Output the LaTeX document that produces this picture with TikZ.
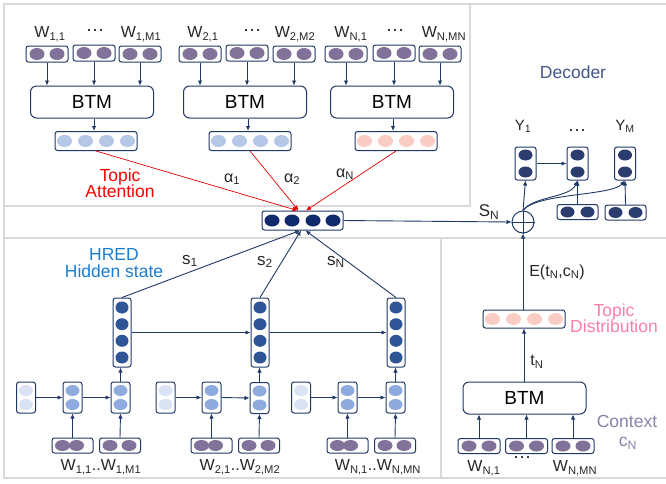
\documentclass[tikz,border=0pt]{standalone}
\usepackage{fontspec}
\setmainfont{Liberation Sans}
\usetikzlibrary{positioning,calc,arrows.meta}
\definecolor{navy}{HTML}{1F3864}
\definecolor{wordc}{HTML}{807299}
\definecolor{topicc}{HTML}{B4C7E7}
\definecolor{pinkc}{HTML}{F9CDC3}
\definecolor{attc}{HTML}{0E2A6A}
\definecolor{hidc}{HTML}{2F5597}
\definecolor{midc}{HTML}{8FAADC}
\definecolor{lightc}{HTML}{DAE3F3}
\definecolor{decc}{HTML}{2B3C6E}
\definecolor{dectext}{HTML}{44558A}
\definecolor{hredtext}{HTML}{1A7DD0}
\definecolor{disttext}{HTML}{FF7DAA}
\definecolor{ctxtext}{HTML}{8A80A8}
\newcommand{\fsz}[1]{\fontsize{#1}{#1}\selectfont}
\newcommand{\lo}[1]{\textsubscript{#1}}
\newcommand{\cellbox}[7]{%
	\node[cell, minimum width=#3pt, minimum height=#4pt] (#1) at #2 {};
	\foreach \dx/\dy in {#7} \fill[#5] ($(#1)+(\dx,\dy)$) ellipse (#6);
}
\tikzset{
	cell/.style={draw=navy, line width=1pt, rounded corners=2.5pt, fill=white, inner sep=0pt},
	btm/.style={draw=navy, line width=1pt, rounded corners=6pt, minimum width=123pt, minimum height=32pt, inner sep=0pt, font=\fsz{19}},
	arr/.style={navy, line width=0.9pt, -{Latex[length=5pt,width=4.5pt]}},
	redarr/.style={red!90!black, line width=0.7pt, -{Latex[length=5pt,width=4.5pt]}},
	lbl/.style={text=black!85, inner sep=0pt, font=\fsz{16}},
	dots/.style={text=black!85, inner sep=0pt, font=\fsz{19}},
	big/.style={inner sep=0pt, align=center, font=\fsz{17.5}},
	panel/.style={draw=black!15, line width=1.3pt},
}
\begin{document}
\begin{tikzpicture}[x=1pt, y=-1pt]
	\useasboundingbox (0,0) rectangle (666,483);
	\draw[panel] (4,4) rectangle (672,478);
	\draw[panel, fill=white] (4,4) rectangle (470,206);
	\draw[panel] (4,238) rectangle (441,478);
	\draw[panel] (441,238) rectangle (672,478);

	\cellbox{w11}{(47,54)}{42}{16}{wordc}{7.5 and 6}{-10/0,10/0}
	\cellbox{w12}{(94,53)}{42}{16}{wordc}{7.5 and 6}{-10/0,10/0}
	\cellbox{w13}{(140,54)}{42}{16}{wordc}{7.5 and 6}{-10/0,10/0}
	\cellbox{w21}{(200,54)}{42}{16}{wordc}{7.5 and 6}{-10/0,10/0}
	\cellbox{w22}{(247,53)}{42}{16}{wordc}{7.5 and 6}{-10/0,10/0}
	\cellbox{w23}{(294,54)}{42}{16}{wordc}{7.5 and 6}{-10/0,10/0}
	\cellbox{w31}{(346,54)}{42}{16}{wordc}{7.5 and 6}{-10/0,10/0}
	\cellbox{w32}{(394,53)}{42}{16}{wordc}{7.5 and 6}{-10/0,10/0}
	\cellbox{w33}{(440,54)}{42}{16}{wordc}{7.5 and 6}{-10/0,10/0}
	\node[lbl] (lw11) at (50,34) {W\lo{1,1}};
	\node[dots] (lw12) at (95,30) {…};
	\node[lbl] (lw13) at (141,34) {W\lo{1,M1}};
	\node[lbl] (lw21) at (203,34) {W\lo{2,1}};
	\node[dots] (lw22) at (252,30) {…};
	\node[lbl] (lw23) at (295,34) {W\lo{2,M2}};
	\node[lbl] (lw31) at (351,34) {W\lo{N,1}};
	\node[dots] (lw32) at (395,30) {…};
	\node[lbl] (lw33) at (444,34) {W\lo{N,MN}};

	\node[btm] (btm1) at (92,102) {BTM};
	\node[btm] (btm2) at (245,102) {BTM};
	\node[btm] (btm3) at (392,102) {BTM};
	\foreach \w in {w11,w12,w13} \draw[arr] (\w.south) -- (\w.south |- btm1.north);
	\foreach \w in {w21,w22,w23} \draw[arr] (\w.south) -- (\w.south |- btm2.north);
	\foreach \w in {w31,w32,w33} \draw[arr] (\w.south) -- (\w.south |- btm3.north);

	\cellbox{topic1}{(96,141)}{82}{19}{topicc}{7.5 and 6}{-31.5/0,-10.5/0,10.5/0,31.5/0}
	\cellbox{topic2}{(250,141)}{82}{19}{topicc}{7.5 and 6}{-31.5/0,-10.5/0,10.5/0,31.5/0}
	\cellbox{topic3}{(396,141)}{82}{19}{pinkc}{7.5 and 6}{-31.5/0,-10.5/0,10.5/0,31.5/0}
	\draw[arr] ($(btm1.south)+(2,0)$) -- ($(topic1.north)+(-2,0)$);
	\draw[arr] ($(btm2.south)+(3,0)$) -- ($(topic2.north)+(-2,0)$);
	\draw[arr] ($(btm3.south)+(1,0)$) -- ($(topic3.north)+(-3,0)$);
	\node[big, text=red] (tatt) at (120,183) {Topic\\[-1pt]Attention};

	\cellbox{att}{(302.5,220.5)}{81}{19}{attc}{7.5 and 6}{-30.5/0,-10.5/0,10.5/0,30.5/0}
	\draw[redarr] (topic1.south) -- ($(att.north)+(-5,0)$);
	\draw[redarr] (topic2.south) -- ($(att.north)+(-4,0)$);
	\draw[redarr] (topic3.south) -- ($(att.north)+(3.5,0)$);
	\node[lbl] (a1) at (232,179) {α\lo{1}};
	\node[lbl] (a2) at (292,179) {α\lo{2}};
	\node[lbl] (aN) at (345,174) {α\lo{N}};

	\node[big, text=dectext] (dec) at (573,72) {Decoder};
	\node[lbl, font=\fsz{15}] (y1) at (523,126) {Y\lo{1}};
	\node[dots] (ydots) at (577,130) {…};
	\node[lbl, font=\fsz{15}] (yM) at (625,126) {Y\lo{M}};
	\cellbox{d1}{(525.5,163.5)}{21}{33}{decc}{7 and 5.5}{0/-8.5,0/8.5}
	\cellbox{d2}{(577.5,163.5)}{21}{33}{decc}{7 and 5.5}{0/-8.5,0/8.5}
	\cellbox{d3}{(625,163.5)}{21}{33}{decc}{7 and 5.5}{0/-8.5,0/8.5}
	\cellbox{e2}{(577.5,212)}{41}{15}{decc}{7 and 5.5}{-10/0,10/0}
	\cellbox{e3}{(625.5,212.5)}{41}{15}{decc}{7 and 5.5}{-10/0,10/0}
	\node[circle, draw=navy, line width=1pt, minimum size=22pt, inner sep=0pt, fill=white] (plus) at (523,222) {};
	\draw[navy, line width=0.6pt] (plus.north) -- (plus.south) (plus.west) -- (plus.east);
	\draw[arr] (att.east) -- (plus.west);
	\node[lbl, font=\fsz{17}] (sN) at (489,212) {S\lo{N}};
	\draw[arr] (plus.north) -- (d1.south);
	\draw[arr] (d1.east) -- (d2.west);
	\draw[arr] (e2.north) -- (d2.south);
	\draw[arr] (e3.north) -- (d3.south);
	\draw[arr] (plus.north) .. controls (533,196) and (570,198) .. (d2.south);
	\draw[arr] (plus.north) .. controls (536,193) and (612,196) .. (d3.south);

	\cellbox{td}{(524,319)}{82}{18}{pinkc}{7.5 and 6}{-31.5/0,-10.5/0,10.5/0,31.5/0}
	\node[big, text=disttext] (tdist) at (614,318) {Topic\\[-1pt]Distribution};
	\node[btm] (btm4) at (524.5,398) {BTM};
	\cellbox{v1}{(479,446)}{42}{15}{wordc}{7.5 and 5.5}{-10/0,10/0}
	\cellbox{v2}{(526.5,446)}{42}{15}{wordc}{7.5 and 5.5}{-10/0,10/0}
	\cellbox{v3}{(573,446)}{42}{15}{wordc}{7.5 and 5.5}{-10/0,10/0}
	\foreach \v in {v1,v2,v3} \draw[arr] (\v.north) -- (\v.north |- btm4.south);
	\node[lbl] (lv1) at (484,468) {W\lo{N,1}};
	\node[dots] (lv2) at (522,457) {…};
	\node[lbl] (lv3) at (575,468) {W\lo{N,MN}};
	\node[big, text=ctxtext] (ctx) at (627,421) {Context};
	\node[big, text=ctxtext] (cN) at (628,443) {c\lo{N}};
	\draw[arr] (btm4.north -| td.south) -- (td.south);
	\node[lbl] (tN) at (537,362) {t\lo{N}};
	\draw[arr] (td.north -| plus.south) -- (plus.south);
	\node[lbl] (etc) at (557,272) {E(t\lo{N},c\lo{N})};

	\node[big, text=hredtext] (hred) at (114,263) {HRED\\[-1pt]Hidden state};
	\cellbox{h1}{(122,332.5)}{18}{69}{hidc}{6.5 and 6}{0/-25,0/-8.3,0/8.3,0/25}
	\cellbox{h2}{(260,332.5)}{18}{69}{hidc}{6.5 and 6}{0/-25,0/-8.3,0/8.3,0/25}
	\cellbox{h3}{(396,332.5)}{18}{69}{hidc}{6.5 and 6}{0/-25,0/-8.3,0/8.3,0/25}
	\draw[arr] (h1.east) -- (h2.west);
	\draw[arr] (h2.east) -- (h3.west);
	\draw[arr] (h1.north) -- ($(att.south)+(-2.5,0)$);
	\draw[arr] (h2.north) -- ($(att.south)+(-1.5,0)$);
	\draw[arr] (h3.north) -- ($(att.south)+(3,0)$);
	\node[lbl, font=\fsz{17}] (s1) at (190,261) {s\lo{1}};
	\node[lbl, font=\fsz{17}] (s2) at (265,262) {s\lo{2}};
	\node[lbl, font=\fsz{17}] (sn) at (336,262) {s\lo{N}};

	\cellbox{r10}{(26,397.5)}{19}{31}{lightc}{7 and 5.5}{0/-7,0/7}
	\cellbox{r11}{(72.5,397.5)}{19}{31}{midc}{7 and 5.5}{0/-7,0/7}
	\cellbox{r12}{(120.5,397.5)}{19}{31}{midc}{7 and 5.5}{0/-7,0/7}
	\cellbox{r20}{(165.5,397.5)}{19}{31}{lightc}{7 and 5.5}{0/-7,0/7}
	\cellbox{r21}{(211.5,397.5)}{19}{31}{midc}{7 and 5.5}{0/-7,0/7}
	\cellbox{r22}{(259.5,398)}{19}{31}{midc}{7 and 5.5}{0/-7,0/7}
	\cellbox{r30}{(301,397.5)}{19}{31}{lightc}{7 and 5.5}{0/-7,0/7}
	\cellbox{r31}{(347.5,397.5)}{19}{31}{midc}{7 and 5.5}{0/-7,0/7}
	\cellbox{r32}{(395.5,397.5)}{19}{31}{midc}{7 and 5.5}{0/-7,0/7}
	\cellbox{x11}{(72.5,445.5)}{41}{15}{wordc}{7.5 and 5.5}{-10/0,4/0}
	\cellbox{x12}{(120,445.5)}{41}{15}{wordc}{7.5 and 5.5}{-10/0,9/0}
	\cellbox{x21}{(211.5,445.5)}{41}{15}{wordc}{7.5 and 5.5}{-10/0,4/0}
	\cellbox{x22}{(259,445.5)}{41}{15}{wordc}{7.5 and 5.5}{-10/0,9/0}
	\cellbox{x31}{(347.5,445.5)}{41}{15}{wordc}{7.5 and 5.5}{-10/0,3/0}
	\cellbox{x32}{(395,445.5)}{41}{15}{wordc}{7.5 and 5.5}{-10/0,9/0}
	\foreach \g/\h in {1/h1,2/h2,3/h3} {
		\draw[arr] (r\g0.east) -- (r\g1.west);
		\draw[arr] (r\g1.east) -- (r\g2.west);
		\draw[arr] (x\g1.north) -- (r\g1.south);
		\draw[arr] (x\g2.north) -- (r\g2.south);
		\draw[arr] (r\g2.north) -- (r\g2.north |- \h.south);
	}
	\node[lbl] (lx1) at (101,467) {W\lo{1,1}..W\lo{1,M1}};
	\node[lbl] (lx2) at (240,467) {W\lo{2,1}..W\lo{2,M2}};
	\node[lbl] (lx3) at (378,467) {W\lo{N,1}..W\lo{N,MN}};
\end{tikzpicture}
\end{document}
